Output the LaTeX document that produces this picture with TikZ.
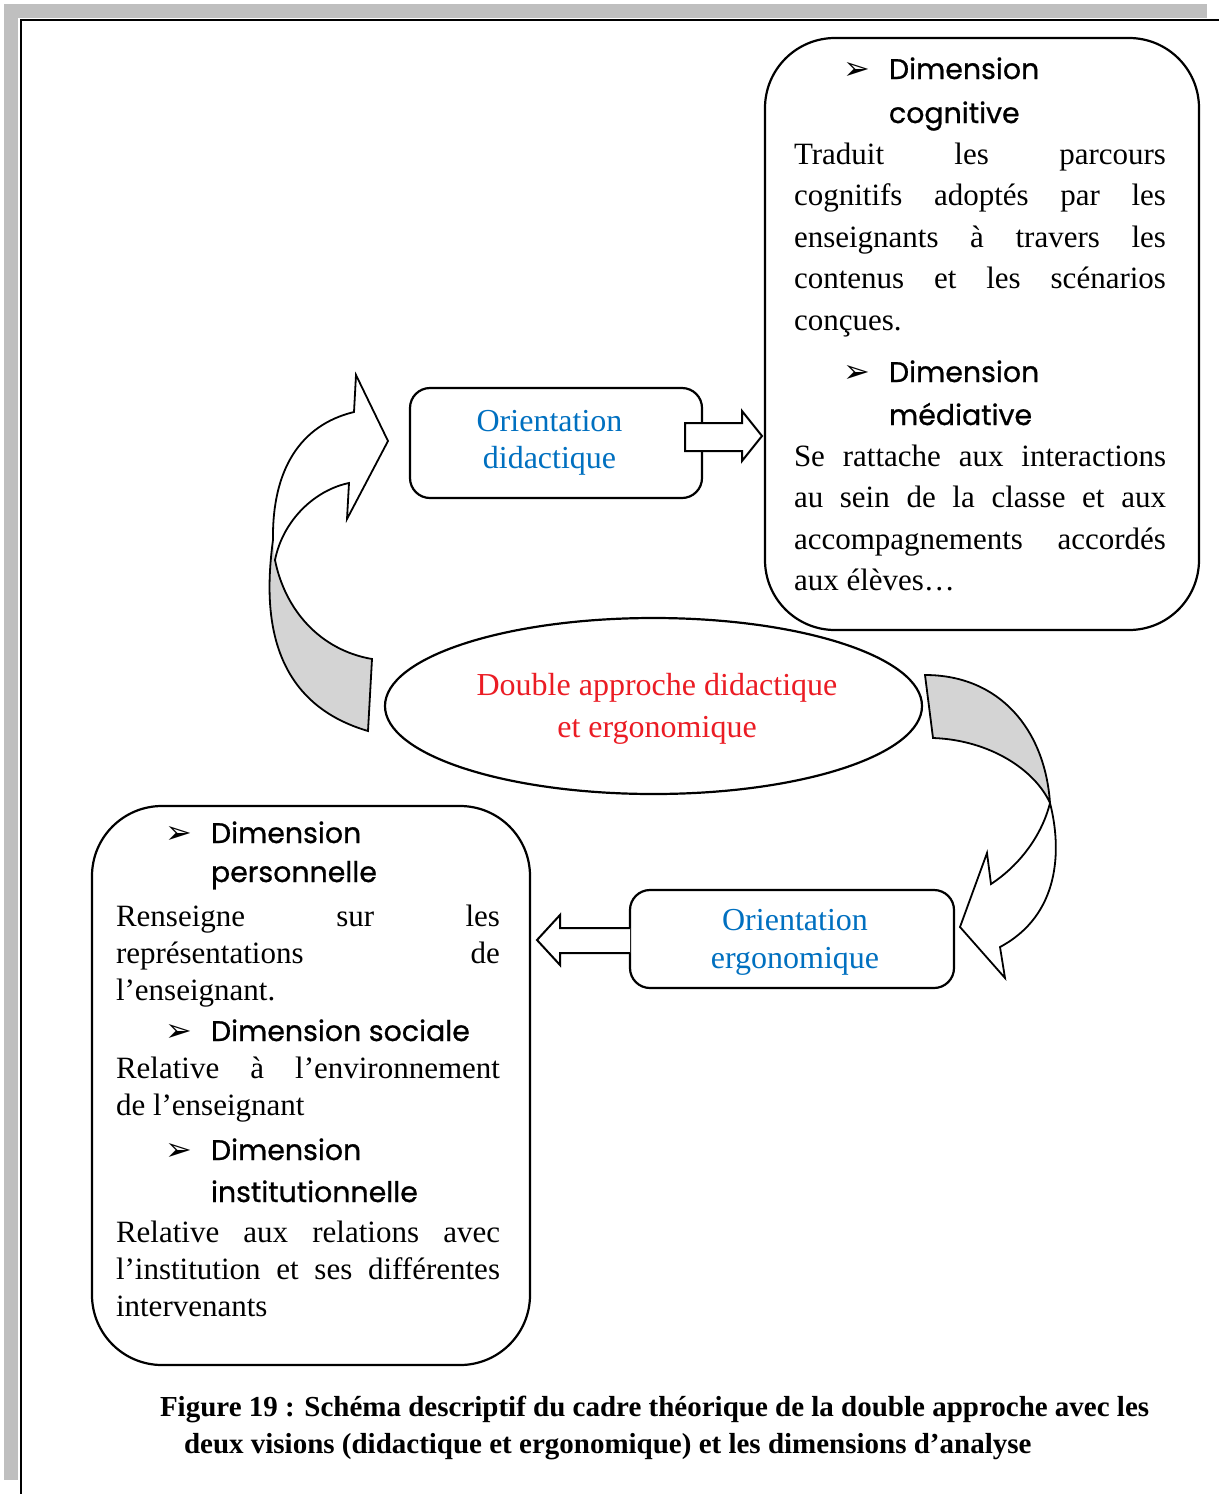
\documentclass[tikz,border=0pt]{standalone}
\usepackage{fontspec}
\setmainfont{Liberation Serif}
\newfontfamily\headfont{Poppins}[FakeBold=0.8]
\newfontfamily\symfont{DejaVu Sans}
\usetikzlibrary{shapes.geometric}
\definecolor{oblue}{RGB}{0,112,192}
\definecolor{ored}{RGB}{235,28,36}
\definecolor{shadowgray}{RGB}{191,191,191}
\definecolor{arrowgray}{RGB}{212,212,212}
\tolerance=10000
\hbadness=10000
\hyphenpenalty=10000
\exhyphenpenalty=10000
\newcommand{\jpar}[2]{\parbox[t]{#1}{#2}}
\tikzset{
  lbl/.style={anchor=base west, inner sep=0pt, outer sep=0pt},
  headtxt/.style={lbl, font=\headfont\fontsize{14.2}{17}\selectfont},
  bul/.style={lbl, font=\symfont\fontsize{16}{18}\selectfont},
  bodytop/.style={lbl, font=\fontsize{15.5}{20.75}\selectfont},
  bodybot/.style={lbl, font=\fontsize{15.5}{18.5}\selectfont},
  bigbox/.style={draw, line width=1.1pt, rounded corners=35pt, inner sep=0pt},
  smallbox/.style={draw, line width=1.1pt, rounded corners=10pt, inner sep=0pt},
  bluetxt/.style={anchor=base, inner sep=0pt, text=oblue, font=\fontsize{16}{19}\selectfont},
  redtxt/.style={anchor=base, inner sep=0pt, text=ored, font=\fontsize{16}{19}\selectfont},
  captxt/.style={lbl, font=\bfseries\fontsize{14.5}{17}\selectfont},
  blockarrow/.style={draw, line width=1pt, fill=white, line join=miter},
  curvearrow/.style={draw, line width=0.9pt, line join=miter},
}
\begin{document}
\begin{tikzpicture}[x=0.5pt,y=-0.5pt]
\useasboundingbox (0,0) rectangle (1219,1494);
\fill[white] (0,0) rectangle (1219,1494);
% page frame
\fill[shadowgray] (4,4) rectangle (1207,18);
\fill[shadowgray] (4,4) rectangle (18,1480);
\draw[line width=1pt] (20,20) -- (1219,20);
\draw[line width=1pt] (21,20) -- (21,1494);

% left curved arrow
\fill[arrowgray] (273,540) .. controls (265,600) and (262,700) .. (368,731) -- (372,659) .. controls (320,650) and (285,610) .. (275,560) -- cycle;
\fill[white] (354,412) -- (356,375) -- (388,441) -- (347,519) -- (349,483) .. controls (315,490) and (283,520) .. (275,560) -- (273,540) .. controls (272,470) and (300,425) .. (354,412) -- cycle;
\draw[curvearrow] (356,375) -- (388,441) -- (347,519) -- (349,483) .. controls (315,490) and (283,520) .. (275,560) .. controls (285,610) and (320,650) .. (372,659) -- (368,731) .. controls (262,700) and (265,600) .. (273,540) .. controls (272,470) and (300,425) .. (354,412) -- cycle;

% right curved arrow
\fill[arrowgray] (925,675) .. controls (1000,675) and (1045,730) .. (1050,803) .. controls (1035,770) and (990,740) .. (933,738) -- cycle;
\fill[white] (1050,803) .. controls (1062,850) and (1060,915) .. (1000,947) -- (1005,978) -- (960,927) -- (987,853) -- (991,884) .. controls (1020,865) and (1042,835) .. (1050,803) -- cycle;
\draw[curvearrow] (925,675) .. controls (1000,675) and (1045,730) .. (1050,803) .. controls (1062,850) and (1060,915) .. (1000,947) -- (1005,978) -- (960,927) -- (987,853) -- (991,884) .. controls (1020,865) and (1042,835) .. (1050,803) .. controls (1035,770) and (990,740) .. (933,738) -- cycle;

% boxes
\node[bigbox, minimum width=217pt, minimum height=296pt] (tr) at (982,334) {};
\node[bigbox, minimum width=219pt, minimum height=279.5pt] (bl) at (311,1085.5) {};
\node[smallbox, minimum width=146pt, minimum height=55pt] (od) at (556,443) {};
\node[smallbox, minimum width=162pt, minimum height=49pt] (oe) at (792,939) {};
\node[draw, ellipse, line width=1.1pt, inner sep=0pt, minimum width=268.5pt, minimum height=88pt] (ell) at (653.5,706) {};

% block arrows
\draw[blockarrow] (685,423) -- (742,423) -- (742,411) -- (762,436) -- (742,461) -- (742,451) -- (685,451) -- cycle;
\draw[blockarrow] (630,928) -- (560,928) -- (560,915) -- (537,940) -- (560,965) -- (560,953) -- (630,953);

% centre texts
\node[bluetxt] (odt1) at (549.5,431) {Orientation};
\node[bluetxt] (odt2) at (549.5,468) {didactique};
\node[bluetxt] (oet1) at (795,930) {Orientation};
\node[bluetxt] (oet2) at (795,968) {ergonomique};
\node[redtxt] (ellt1) at (657,695) {Double approche didactique};
\node[redtxt] (ellt2) at (657,737) {et ergonomique};

% top-right box content
\node[bul] (b1) at (843,79) {➢};
\node[headtxt] (h1a) at (889,79) {Dimension};
\node[headtxt] (h1b) at (889,123) {cognitive};
\node[bodytop] (p1) at (794,164) {\jpar{186pt}{Traduit les parcours\linebreak cognitifs adoptés par les\linebreak enseignants à travers les\linebreak contenus et les scénarios\linebreak conçues.}};
\node[bul] (b2) at (843,382) {➢};
\node[headtxt] (h2a) at (889,382) {Dimension};
\node[headtxt] (h2b) at (889,425) {médiative};
\node[bodytop] (p2) at (794,466) {\jpar{186pt}{Se rattache aux interactions\linebreak au sein de la classe et aux\linebreak accompagnements accordés\linebreak aux élèves…}};

% bottom-left box content
\node[bul] (b3) at (165,843) {➢};
\node[headtxt] (h3a) at (211,843) {Dimension};
\node[headtxt] (h3b) at (211,882) {personnelle};
\node[bodybot] (p3) at (116,926) {\jpar{192pt}{Renseigne sur les\linebreak représentations de\linebreak l’enseignant.}};
\node[bul] (b4) at (165,1041) {➢};
\node[headtxt] (h4) at (211,1041) {Dimension sociale};
\node[bodybot] (p4) at (116,1078) {\jpar{192pt}{Relative à l’environnement\linebreak de l’enseignant}};
\node[bul] (b5) at (165,1160) {➢};
\node[headtxt] (h5a) at (211,1160) {Dimension};
\node[headtxt] (h5b) at (211,1202) {institutionnelle};
\node[bodybot] (p5) at (116,1242) {\jpar{192pt}{Relative aux relations avec\linebreak l’institution et ses différentes\linebreak intervenants}};

% caption
\node[captxt] (cap1) at (160,1416) {Figure 19 : Schéma descriptif du cadre théorique de la double approche avec les};
\node[captxt] (cap2) at (184,1453) {deux visions (didactique et ergonomique) et les dimensions d’analyse};
\end{tikzpicture}
\end{document}
